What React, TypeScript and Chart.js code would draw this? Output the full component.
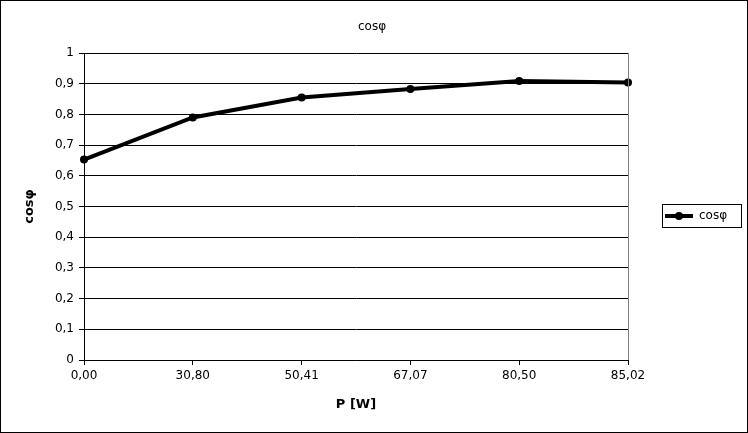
import React, { useEffect, useRef } from 'react';
import { Chart, registerables } from 'chart.js';

Chart.register(...registerables);

const categories = ['0,00', '30,80', '50,41', '67,07', '80,50', '85,02'];
const cosPhiValues = [0.653, 0.79, 0.855, 0.883, 0.909, 0.904];
const seriesName = 'cosφ';
const chartTitle = 'cosφ';
const xAxisTitle = 'P [W]';
const yAxisTitle = 'cosφ';

const FONT = 'DejaVu Sans';

const framePlugin = {
  id: 'frame',
  afterDraw(chart: any) {
    const { ctx, chartArea, width, height } = chart;
    ctx.save();
    // chart title
    ctx.fillStyle = '#000';
    ctx.font = `12px "${FONT}"`;
    ctx.textAlign = 'center';
    ctx.textBaseline = 'middle';
    ctx.fillText(chartTitle, width / 2 - 2, 27);
    // plot right border (gray)
    ctx.strokeStyle = '#808080';
    ctx.lineWidth = 1;
    ctx.beginPath();
    ctx.moveTo(Math.round(chartArea.right) + 0.5, chartArea.top);
    ctx.lineTo(Math.round(chartArea.right) + 0.5, chartArea.bottom);
    ctx.stroke();
    // outer border
    ctx.strokeStyle = '#000';
    ctx.strokeRect(0.5, 0.5, width - 1, height - 1);
    // legend
    const lx = Math.round(chartArea.right) + 34;
    const ly = Math.round((chartArea.top + chartArea.bottom) / 2) + 9;
    ctx.strokeRect(lx + 0.5, ly - 11.5, 79, 23);
    ctx.lineWidth = 4;
    ctx.beginPath();
    ctx.moveTo(lx + 3, ly);
    ctx.lineTo(lx + 31, ly);
    ctx.stroke();
    ctx.beginPath();
    ctx.arc(lx + 17, ly, 4, 0, Math.PI * 2);
    ctx.fill();
    ctx.font = `12px "${FONT}"`;
    ctx.textBaseline = 'middle';
    ctx.textAlign = 'left';
    ctx.fillText(seriesName, lx + 37, ly);
    ctx.restore();
  },
};

export default function App() {
  const canvasRef = useRef<HTMLCanvasElement | null>(null);

  useEffect(() => {
    if (!canvasRef.current) return;
    const chart = new Chart(canvasRef.current, {
      type: 'line',
      data: {
        labels: categories,
        datasets: [
          {
            label: seriesName,
            data: cosPhiValues,
            borderColor: '#000',
            backgroundColor: '#000',
            borderWidth: 4,
            pointRadius: 4,
            pointBackgroundColor: '#000',
            pointBorderColor: '#000',
            pointBorderWidth: 0,
            tension: 0,
            fill: false,
          },
        ],
      },
      options: {
        responsive: false,
        animation: false,
        devicePixelRatio: 1,
        layout: { padding: { left: 0, right: 120, top: 53, bottom: 0 } },
        plugins: {
          legend: { display: false },
          tooltip: { enabled: false },
          title: { display: false },
        },
        scales: {
          x: {
            type: 'category',
            offset: false,
            afterFit: (scale: any) => {
              scale.height = 73;
            },
            grid: {
              drawOnChartArea: false,
              drawTicks: true,
              tickLength: 5,
              color: '#000',
            },
            border: { display: true, color: '#000', width: 1 },
            ticks: {
              color: '#000',
              font: { family: FONT, size: 12 },
              padding: 4,
              maxRotation: 0,
              autoSkip: false,
            },
            title: {
              display: true,
              text: xAxisTitle,
              color: '#000',
              font: { family: FONT, size: 13, weight: 'bold' },
              padding: { top: 0, bottom: 21 },
            },
          },
          y: {
            min: 0,
            max: 1,
            afterFit: (scale: any) => {
              scale.width = 84;
            },
            grid: {
              color: '#000',
              drawTicks: true,
              tickLength: 5,
            },
            border: { display: true, color: '#000', width: 1 },
            ticks: {
              stepSize: 0.1,
              color: '#000',
              font: { family: FONT, size: 12 },
              padding: 5,
              callback: (v: any) => {
                const n = Number(v);
                if (Math.abs(n) < 1e-9) return '0';
                if (Math.abs(n - 1) < 1e-9) return '1';
                return n.toFixed(1).replace('.', ',');
              },
            },
            title: {
              display: true,
              text: yAxisTitle,
              color: '#000',
              font: { family: FONT, size: 13, weight: 'bold' },
              padding: { top: 22, bottom: 0 },
            },
          },
        },
      },
      plugins: [framePlugin],
    });
    return () => chart.destroy();
  }, []);

  return (
    <div style={{ position: 'absolute', left: 0, top: 0, width: 748, height: 433, background: '#fff' }}>
      <canvas ref={canvasRef} width={748} height={433} style={{ display: 'block' }} />
    </div>
  );
}
